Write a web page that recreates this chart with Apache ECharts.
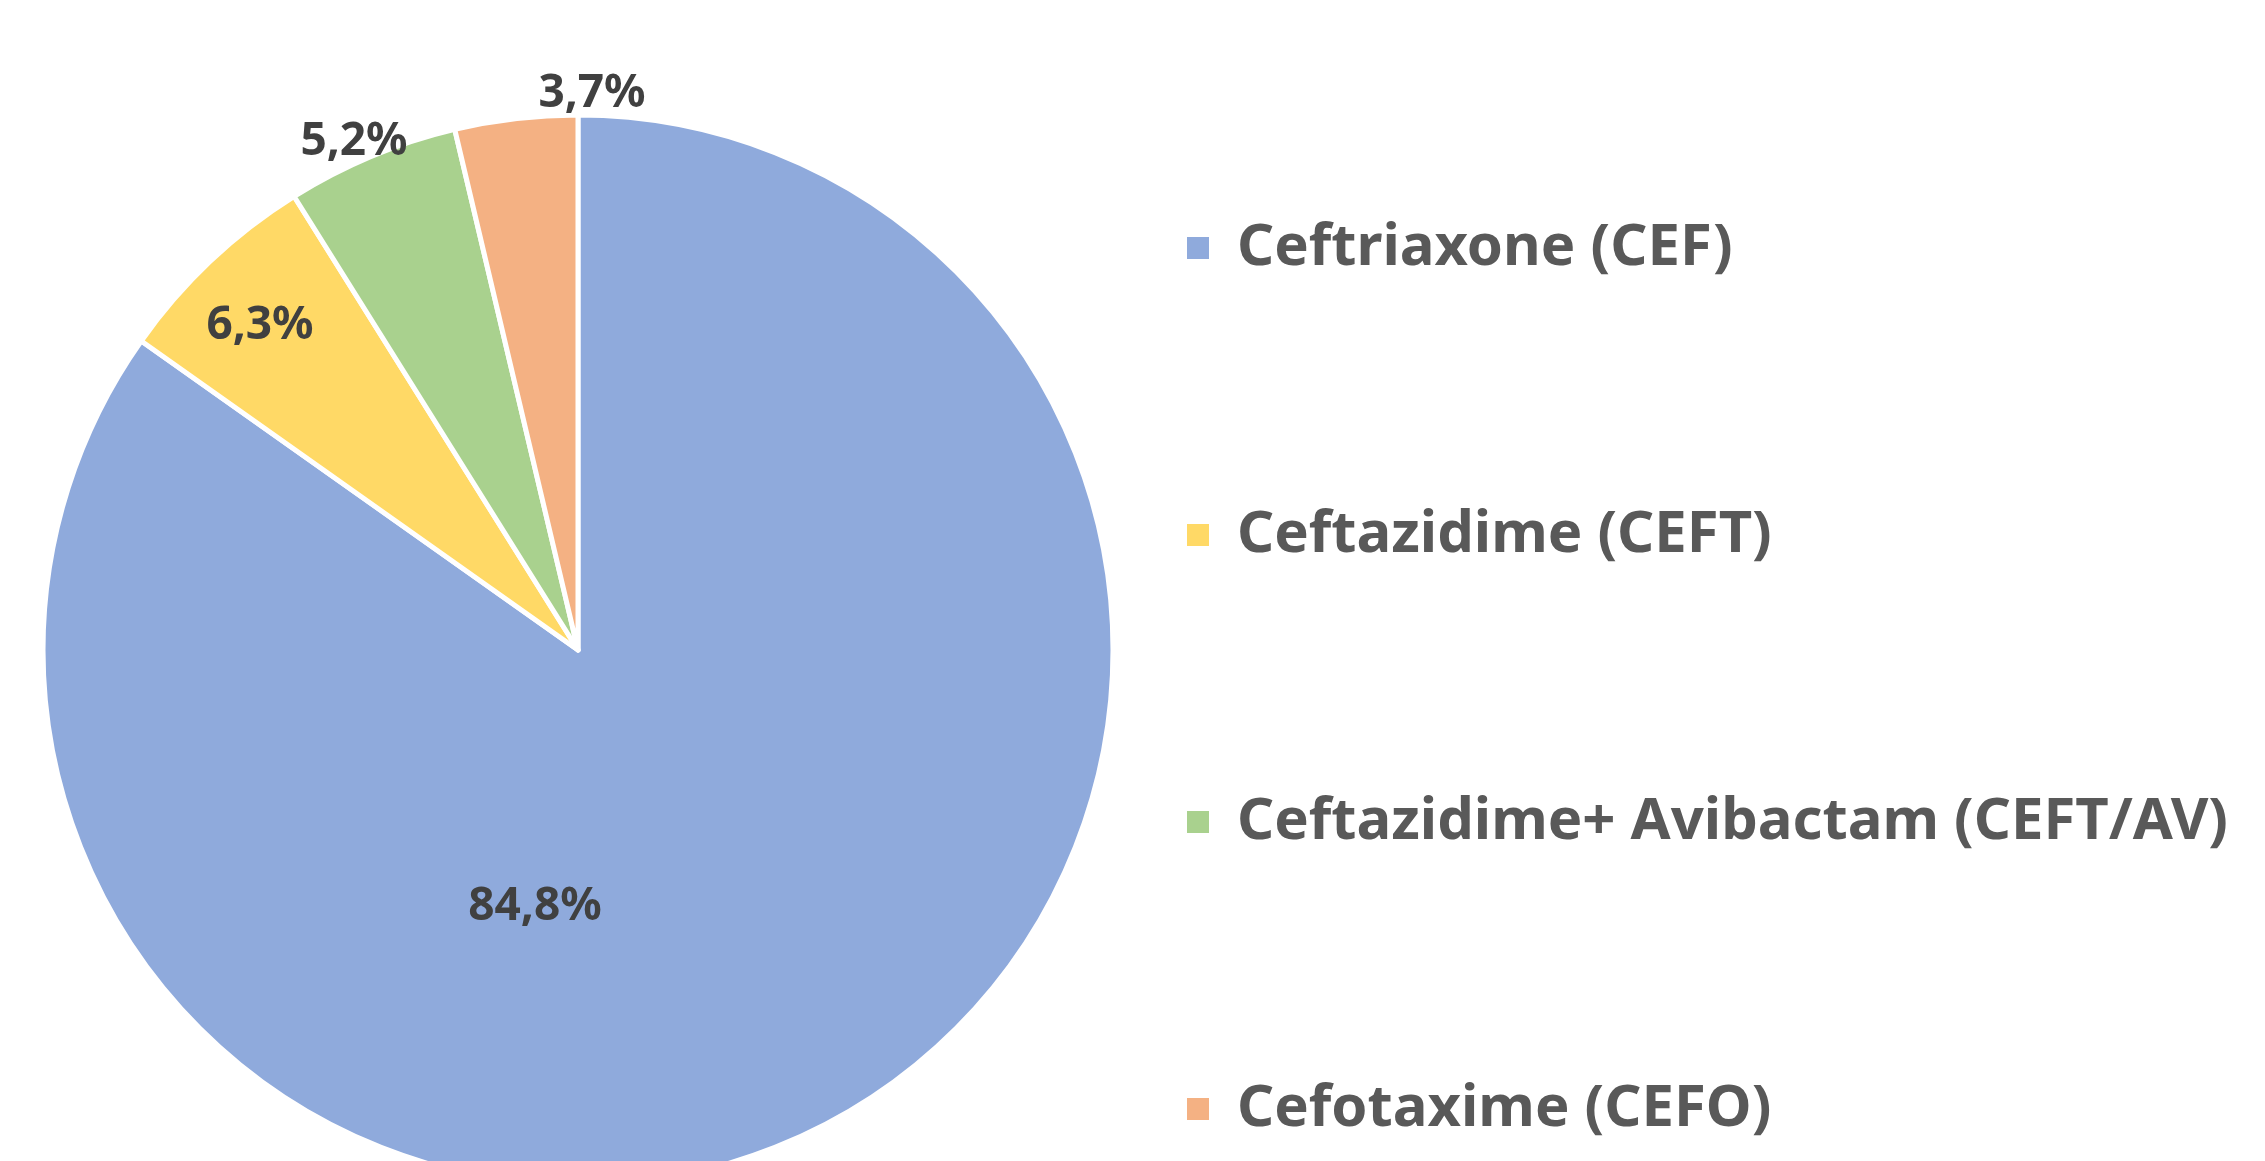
<!DOCTYPE html>
<html>
<head>
<meta charset="utf-8">
<script src="https://cdn.jsdelivr.net/npm/echarts@6/dist/echarts.min.js"></script>
<style>
  html, body { margin: 0; padding: 0; background: #ffffff; }
  #main { width: 2265px; height: 1161px; }
</style>
</head>
<body>
<div id="main"></div>
<script>
// antibiotic shares, percent
var names = ['Ceftriaxone (CEF)', 'Ceftazidime (CEFT)', 'Ceftazidime+ Avibactam (CEFT/AV)', 'Cefotaxime (CEFO)'];
var values = [84.8, 6.3, 5.2, 3.7];
var colors = ['#8FAADC', '#FFD966', '#A9D18E', '#F4B183'];

// label spots (px) like the excel "best fit" placement
var labelSpots = [[535, 907], [260, 326], [354, 142], [592, 94]];

var chart = echarts.init(document.getElementById('main'));

var pieData = [];
for (var i = 0; i < names.length; i++) {
    pieData.push({ name: names[i], value: values[i], itemStyle: { color: colors[i] } });
}

var option = {
    animation: false,
    legend: {
        orient: 'vertical',
        left: 1185,
        top: 219,
        padding: 0,
        itemGap: 229,
        itemWidth: 24,
        itemHeight: 24,
        icon: 'rect',
        textStyle: {
            fontFamily: 'Noto Sans',
            fontSize: 58,
            fontWeight: 'bold',
            color: '#595959',
            padding: [0, 0, 0, 22]
        },
        data: names
    },
    series: [{
        type: 'pie',
        center: [578, 650],
        radius: 535,
        startAngle: 90,
        clockwise: true,
        itemStyle: { borderColor: '#ffffff', borderWidth: 5 },
        label: {
            show: true,
            position: 'inside',
            fontFamily: 'Noto Sans',
            fontSize: 46,
            fontWeight: 'bold',
            color: '#404040',
            formatter: function (p) {
                return p.value.toFixed(1).replace('.', ',') + '%';
            }
        },
        labelLine: { show: false },
        labelLayout: function (p) {
            var s = labelSpots[p.dataIndex];
            return { x: s[0], y: s[1], align: 'center', verticalAlign: 'middle' };
        },
        emphasis: { disabled: true },
        data: pieData
    }]
};

chart.setOption(option);
</script>
</body>
</html>
